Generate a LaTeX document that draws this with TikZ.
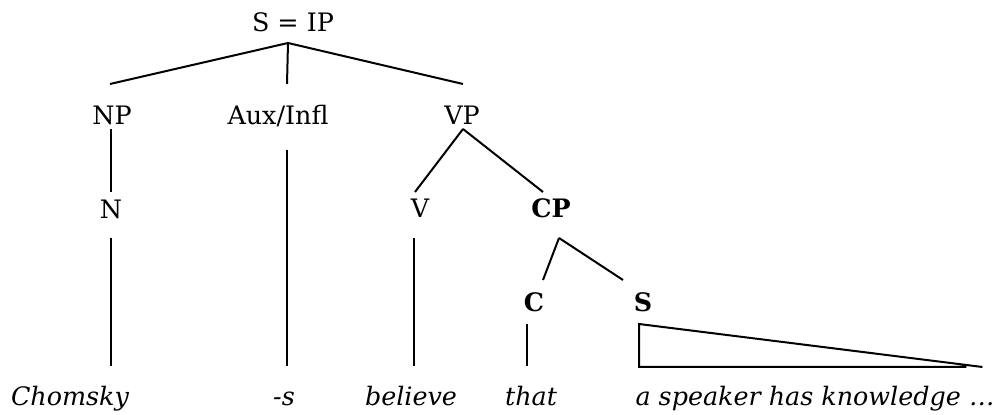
\documentclass[tikz,border=0pt]{standalone}
\usepackage{fontspec}
\setmainfont{DejaVu Serif}
\usepackage{tikz}
\usetikzlibrary{calc}

\begin{document}
\begin{tikzpicture}[x=0.5pt, y=-0.5pt, line width=1pt,
    lbl/.style={anchor=base, inner sep=0pt, text height=9pt, text depth=0pt, font=\fontsize{12.7pt}{15pt}\selectfont},
    word/.style={lbl, font=\fontsize{12.7pt}{15pt}\selectfont\itshape}]
    \useasboundingbox (0,0) rectangle (1008,415);

    % Top of the tree
    \node (sip) at (293,32) [lbl] {S = IP};
    \node (np) at (112,125) [lbl] {NP};
    \node (aux) at (278,125) [lbl] {Aux/Infl};
    \node (vp) at (462,125) [lbl] {VP};
    \draw ($(sip.south)+(-5,10)$) -- ($(np.north)+(-2,-22)$);
    \draw ($(sip.south)+(-5,10)$) -- ($(aux.north)+(9,-22)$);
    \draw ($(sip.south)+(-5,10)$) -- ($(vp.north)+(1,-22)$);

    % Heads
    \node (n) at (111,219) [lbl] {N};
    \node (v) at (420,218) [lbl] {V};
    \node (cp) at (551,218) [lbl] {\bfseries CP};
    \draw ($(np.south)+(-1,3)$) -- ($(n.north)+(0,-8)$);
    \draw ($(vp.south)+(1,3)$) -- ($(v.north)+(-5,-7)$);
    \draw ($(vp.south)+(1,3)$) -- ($(cp.north)+(-8,-7)$);

    % Complement clause
    \node (c) at (534,312) [lbl] {\bfseries C};
    \node (s) at (643,312) [lbl] {\bfseries S};
    \draw ($(cp.south)+(8,19)$) -- ($(c.north)+(9,-13)$);
    \draw ($(cp.south)+(8,19)$) -- ($(s.north)+(-20,-13)$);

    % The words
    \node (chomsky) at (70,406) [word] {Chomsky};
    \node (suffix) at (284,406) [word] {-s};
    \node (believe) at (411,406) [word] {believe};
    \node (that) at (531,406) [word] {that};
    \node (speaker) at (815,406) [word] {a speaker has knowledge \dots};
    \draw ($(n.south)+(0,18)$) -- ($(n.south |- chomsky.north)+(0,-21)$);
    \draw ($(aux.south)+(9,24)$) -- ($(aux.south |- suffix.north)+(9,-21)$);
    \draw ($(v.south)+(-6,19)$) -- ($(v.south |- believe.north)+(-6,-21)$);
    \draw ($(c.south)+(-7,11)$) -- ($(c.south |- that.north)+(-7,-21)$);

    % Triangle over the clause
    \draw ($(speaker.north east)+(-13,-20)$) -- ($(s.south)+(-4,11)$)
        -- ($(s.south |- speaker.north)+(-4,-20)$) -- ($(speaker.north east)+(-29,-20)$);
\end{tikzpicture}
\end{document}
